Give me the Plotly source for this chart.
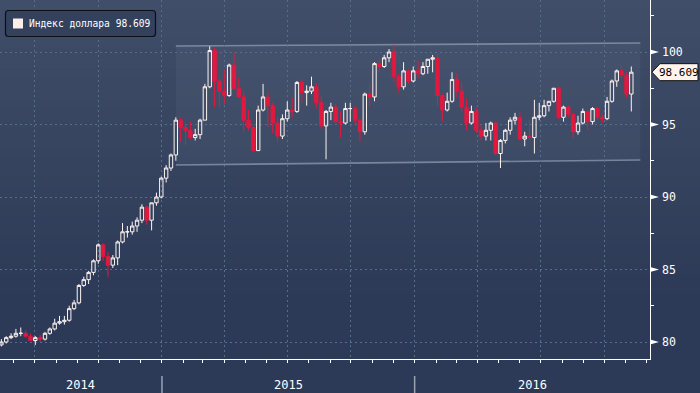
import plotly.graph_objects as go
import pandas as pd

# ---------------- data (weekly OHLC of the dollar index) ----------------
first_week = "2014-05-12"
opens = [79.8, 80.0, 80.3, 80.4, 80.6, 80.6, 80.4, 80.1, 80.3, 80.2, 80.6, 80.9, 81.3, 81.4, 81.5, 82.3, 82.7, 83.9, 84.3, 84.8,
         85.6, 86.7, 85.9, 85.3, 85.8, 86.9, 87.6, 87.6, 88.0, 88.4, 89.3, 88.4, 89.6, 90.0,
         91.3, 92.0, 92.9, 95.3, 94.8, 94.6, 94.1, 94.3, 95.3, 97.6, 100.1, 98.0, 97.3, 97.0, 99.1, 97.5,
         96.9, 95.3, 94.8, 93.2, 96.0, 96.9, 96.3, 95.1, 94.2, 95.4, 96.0, 95.9, 97.9, 97.2, 97.3, 97.6,
         96.5, 94.9, 95.9, 96.2, 95.2, 95.1, 96.1, 96.1, 95.3, 94.5, 97.1, 96.9, 99.2, 99.0, 99.6, 100.0,
         98.3, 97.6, 98.7, 98.0,
         98.7, 98.5, 99.0, 99.5, 99.6, 97.0, 96.0, 96.6, 98.1, 97.3, 96.2, 95.1, 95.9, 94.6, 94.2, 94.6,
         95.1, 93.0, 93.9, 94.6, 95.3, 95.5, 94.0, 94.2, 94.1, 95.5, 95.6, 96.3, 96.6, 97.5, 95.5, 96.2,
         95.7, 94.5, 95.1, 95.9, 95.2, 96.1, 95.5, 95.4, 96.6, 98.0, 98.7, 98.4, 97.1]
highs = [80.2, 80.4, 80.6, 80.9, 81.0, 80.8, 80.6, 80.4, 80.5, 80.7, 81.0, 81.6, 81.8, 81.8, 82.5, 82.9, 84.0, 84.5, 84.9, 85.7,
         86.8, 86.8, 86.2, 86.0, 87.0, 88.2, 88.0, 88.3, 88.6, 89.5, 89.4, 89.6, 90.3, 91.4,
         92.2, 93.0, 95.5, 95.5, 95.0, 95.2, 94.7, 95.4, 97.8, 100.4, 100.3, 98.2, 98.8, 99.2, 100.0, 98.2,
         97.3, 96.0, 95.0, 96.3, 97.8, 97.3, 96.5, 95.5, 95.7, 96.6, 96.9, 98.0, 98.1, 97.7, 98.3, 97.8,
         97.0, 96.0, 96.5, 96.4, 95.9, 96.5, 96.5, 96.3, 95.4, 97.2, 97.8, 99.3, 99.6, 99.8, 100.2, 100.5,
         98.5, 99.3, 98.8, 99.0,
         99.4, 99.3, 99.5, 99.8, 99.9, 97.1, 97.2, 98.6, 98.5, 97.9, 96.8, 96.3, 96.2, 95.0, 95.1, 95.2,
         95.2, 94.0, 94.7, 95.5, 95.8, 95.9, 94.5, 95.3, 96.7, 96.5, 96.7, 96.6, 97.5, 97.6, 96.3, 96.3,
         95.8, 95.6, 96.1, 96.0, 96.2, 96.2, 95.7, 96.9, 98.1, 98.8, 99.1, 98.6, 99.0]
lows = [79.7, 79.9, 80.2, 80.3, 80.4, 80.3, 80.1, 79.8, 80.0, 80.1, 80.5, 80.8, 81.2, 81.2, 81.4, 82.2, 82.6, 83.8, 84.0, 84.6,
        85.4, 85.6, 84.5, 85.1, 85.3, 86.8, 87.2, 87.4, 87.6, 88.2, 88.1, 87.7, 89.4, 89.9,
        91.0, 91.8, 92.5, 93.8, 93.6, 94.0, 93.9, 94.0, 95.3, 97.5, 96.2, 96.2, 96.4, 96.9, 97.4, 96.9,
        94.5, 94.6, 93.1, 93.2, 95.9, 94.8, 94.4, 93.8, 94.0, 95.2, 95.5, 95.8, 96.5, 96.3, 97.1, 96.1,
        94.7, 92.6, 95.3, 95.1, 94.1, 95.0, 95.2, 95.0, 93.8, 94.3, 96.2, 96.6, 98.6, 98.9, 99.3, 97.9,
        97.2, 97.4, 97.8, 97.9,
        98.2, 98.4, 98.5, 98.6, 96.3, 95.2, 95.9, 96.5, 96.9, 95.9, 94.6, 95.0, 94.4, 93.9, 93.9, 93.9,
        92.9, 92.0, 93.7, 94.3, 95.0, 93.9, 93.5, 93.9, 93.0, 95.3, 95.5, 95.9, 96.5, 95.4, 95.2, 95.5,
        94.1, 94.3, 95.0, 94.6, 95.0, 95.3, 95.1, 95.3, 96.5, 97.6, 98.2, 96.9, 95.9]
closes = [80.0, 80.3, 80.4, 80.6, 80.6, 80.4, 80.1, 80.3, 80.2, 80.6, 80.9, 81.3, 81.4, 81.5, 82.3, 82.7, 83.9, 84.3, 84.8, 85.6,
          86.7, 85.9, 85.3, 85.8, 86.9, 87.6, 87.6, 88.0, 88.4, 89.3, 88.4, 89.6, 90.0, 91.3,
          92.0, 92.9, 95.3, 94.8, 94.6, 94.1, 94.3, 95.3, 97.6, 100.1, 98.0, 97.3, 97.0, 99.1, 97.5, 96.9,
          95.3, 94.8, 93.2, 96.0, 96.9, 96.3, 95.1, 94.2, 95.4, 96.0, 95.9, 97.9, 97.2, 97.3, 97.6, 96.5,
          94.9, 95.9, 96.2, 95.2, 95.1, 96.1, 96.1, 95.3, 94.5, 97.1, 96.9, 99.2, 99.0, 99.6, 100.0, 98.3,
          97.6, 98.7, 98.0, 98.7,
          98.5, 99.0, 99.5, 99.6, 97.0, 96.0, 96.6, 98.1, 97.3, 96.2, 95.1, 95.9, 94.6, 94.2, 94.6, 95.1,
          93.0, 93.9, 94.6, 95.3, 95.5, 94.0, 94.2, 94.1, 95.5, 95.6, 96.3, 96.6, 97.5, 95.5, 96.2, 95.7,
          94.5, 95.1, 95.9, 95.2, 96.1, 95.5, 95.4, 96.6, 98.0, 98.7, 98.4, 97.1, 98.609]

# channel (trend lines drawn on the chart)
channel_dates = ["2015-01-21", "2016-11-22"]
channel_top = [100.41, 100.62]
channel_bottom = [92.21, 92.55]

y_tick_values = [80, 85, 90, 95, 100]
y_tick_labels = ["80", "85", "90", "95", "100"]
year_labels = ["2014", "2015", "2016"]
x_start, x_end = "2014-05-12", "2016-12-06"
legend_name = "Индекс доллара"

# ---------------- layout helpers ----------------
W, H = 700, 393
ML, MR, MT, MB = 0, 50, 0, 34
PW, PH = W - ML - MR, H - MT - MB
Y0, Y1 = 78.828, 103.586


def PX(px):
    return (px - ML) / PW


def PY(py):
    return 1 - (py - MT) / PH


MONO = "DejaVu Sans Mono"
RED = "#e2183f"
WHITE = "#fdf4f0"

week_mid = pd.date_range(first_week, periods=len(closes), freq="7D") + pd.Timedelta(days=2)

fig = go.Figure()
fig.add_trace(go.Candlestick(
    x=week_mid, open=opens, high=highs, low=lows, close=closes,
    increasing=dict(line=dict(color=WHITE, width=1), fillcolor="rgba(0,0,0,0)"),
    decreasing=dict(line=dict(color=RED, width=1), fillcolor=RED),
    whiskerwidth=0, showlegend=False, hoverinfo="skip",
))

shapes = []
# background gradient
top_c = (64, 78, 105)
bot_c = (45, 58, 87)
n = 40
for i in range(n):
    y0 = i * H / n
    y1 = (i + 1) * H / n
    t = min(1.0, (y0 + y1) / 2 / 300)
    c = tuple(int(round(top_c[k] + (bot_c[k] - top_c[k]) * t)) for k in range(3))
    shapes.append(dict(type="rect", xref="paper", yref="paper", x0=PX(-2), x1=PX(W + 2),
                       y0=PY(y1 + 0.5), y1=PY(y0 - 0.5), fillcolor="rgb(%d,%d,%d)" % c,
                       line=dict(width=0), layer="below"))

# channel fill and lines
shapes.append(dict(type="path", xref="x", yref="y", layer="below",
                   path="M %s,%s L %s,%s L %s,%s L %s,%s Z" % (
                       channel_dates[0], channel_top[0], channel_dates[1], channel_top[1],
                       channel_dates[1], channel_bottom[1], channel_dates[0], channel_bottom[0]),
                   fillcolor="rgba(255,255,255,0.04)", line=dict(width=0)))
for ys in (channel_top, channel_bottom):
    shapes.append(dict(type="line", xref="x", yref="y", layer="below",
                       x0=channel_dates[0], x1=channel_dates[1], y0=ys[0], y1=ys[1],
                       line=dict(color="rgba(165,175,195,0.6)", width=1.6)))

# year separators
for d in ["2015-01-01", "2016-01-01"]:
    shapes.append(dict(type="line", xref="x", yref="paper", x0=d, x1=d,
                       y0=PY(376), y1=PY(393), line=dict(color="#9aa2b4", width=1.5)))

# right-axis triangle markers
dv = 2.6 / (PH / (Y1 - Y0))
for v in y_tick_values:
    shapes.append(dict(type="path", xref="paper", yref="y",
                       path="M %f,%f L %f,%f L %f,%f Z" % (PX(650), v + dv, PX(659), v, PX(650), v - dv),
                       fillcolor="white", line=dict(width=0)))

# last value box (arrow shaped)
last = closes[-1]
hv = 8.5 / (PH / (Y1 - Y0))
shapes.append(dict(type="path", xref="paper", yref="y",
                   path="M %f,%f L %f,%f L %f,%f L %f,%f L %f,%f Z" % (
                       PX(652), last, PX(660), last + hv, PX(698), last + hv, PX(698), last - hv, PX(660), last - hv),
                   fillcolor="#fff3ec", line=dict(color="#111111", width=1)))

# legend box
x0, x1, y0, y1, r = 5.5, 155.5, 10.5, 36.5, 3
path = ("M %f,%f L %f,%f Q %f,%f %f,%f L %f,%f Q %f,%f %f,%f L %f,%f Q %f,%f %f,%f L %f,%f Q %f,%f %f,%f Z" % (
    PX(x0 + r), PY(y0), PX(x1 - r), PY(y0), PX(x1), PY(y0), PX(x1), PY(y0 + r),
    PX(x1), PY(y1 - r), PX(x1), PY(y1), PX(x1 - r), PY(y1),
    PX(x0 + r), PY(y1), PX(x0), PY(y1), PX(x0), PY(y1 - r),
    PX(x0), PY(y0 + r), PX(x0), PY(y0), PX(x0 + r), PY(y0)))
shapes.append(dict(type="path", xref="paper", yref="paper", path=path,
                   fillcolor="#33415c", line=dict(color="#0c0f16", width=1.2)))
shapes.append(dict(type="rect", xref="paper", yref="paper", x0=PX(13), x1=PX(23), y0=PY(28.5), y1=PY(18.5),
                   fillcolor="#fdeee8", line=dict(width=0)))

annotations = []
annotations.append(dict(xref="paper", yref="paper", x=PX(27), y=PY(24), xanchor="left", yanchor="middle",
                        text="%s %.3f" % (legend_name, last), showarrow=False,
                        font=dict(family=MONO, size=9.6, color="white")))
for v, lab in zip(y_tick_values, y_tick_labels):
    annotations.append(dict(xref="paper", yref="y", x=PX(660), y=v, xanchor="left", yanchor="middle",
                            text=lab, showarrow=False, font=dict(family=MONO, size=11.5, color="white")))
annotations.append(dict(xref="paper", yref="y", x=PX(679), y=last, xanchor="center", yanchor="middle",
                        text="%.3f" % last, showarrow=False, font=dict(family=MONO, size=11, color="black")))
bounds = [pd.Timestamp(x_start), pd.Timestamp("2015-01-01"), pd.Timestamp("2016-01-01"), pd.Timestamp(x_end)]
for i, lab in enumerate(year_labels):
    mid = bounds[i] + (bounds[i + 1] - bounds[i]) / 2
    annotations.append(dict(xref="x", yref="paper", x=mid, y=PY(385), xanchor="center", yanchor="middle",
                            text=lab, showarrow=False, font=dict(family=MONO, size=12, color="white")))

GRID = "#566d8c"
fig.update_layout(
    width=W, height=H, margin=dict(l=ML, r=MR, t=MT, b=MB),
    paper_bgcolor="rgb(45,58,87)", plot_bgcolor="rgba(0,0,0,0)",
    boxgap=0.3, boxgroupgap=0,
    shapes=shapes, annotations=annotations, showlegend=False,
    xaxis=dict(type="date", range=[x_start, x_end], rangeslider=dict(visible=False),
               showgrid=True, gridcolor=GRID, gridwidth=1, griddash="2px,3px",
               tick0="2014-01-01", dtick="M3", ticks="outside", ticklen=3, tickcolor="white",
               showticklabels=False, showline=True, linecolor="white", linewidth=1.2,
               minor=dict(dtick="M1", ticks="outside", ticklen=3, tickcolor="white", showgrid=False),
               zeroline=False, fixedrange=True),
    yaxis=dict(side="right", range=[Y0, Y1], tick0=0, dtick=5, showgrid=True,
               gridcolor=GRID, gridwidth=1, griddash="2px,3px", ticks="", showticklabels=False,
               showline=True, linecolor="white", linewidth=1.2, zeroline=False,
               minor=dict(dtick=2.5, ticks="outside", ticklen=3, tickcolor="white", showgrid=False),
               fixedrange=True),
)

fig.write_html("out.html", config={"displayModeBar": False},
               post_script="document.body.style.margin='0px';document.body.style.overflow='hidden';")
